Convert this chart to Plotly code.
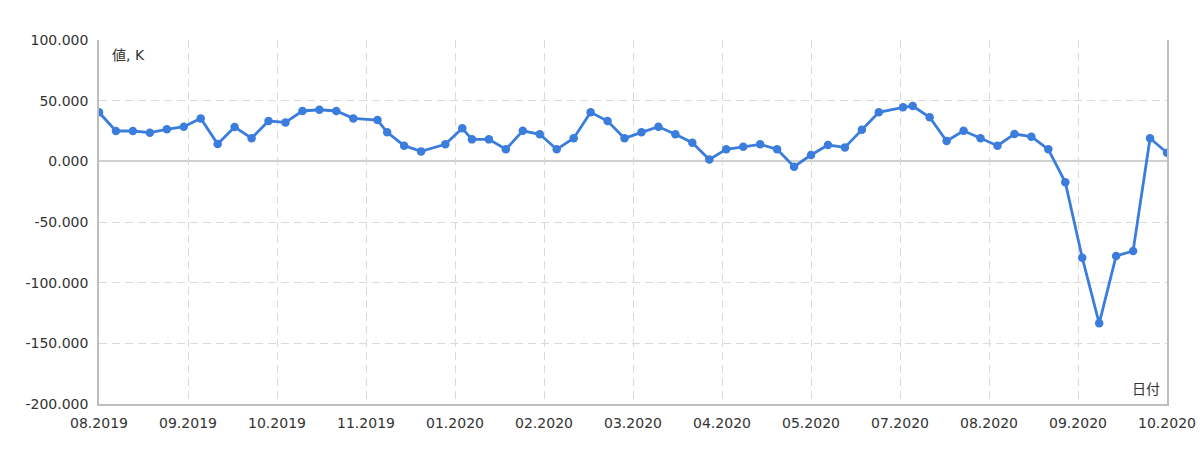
import pandas as pd
import plotly.graph_objects as go

# Weekly report dates (Fridays; holiday weeks published the following Monday)
dates = [
    "2019-08-09", "2019-08-16", "2019-08-23", "2019-08-30", "2019-09-06", "2019-09-13",
    "2019-09-20", "2019-09-27", "2019-10-04", "2019-10-11", "2019-10-18", "2019-10-25",
    "2019-11-01", "2019-11-08", "2019-11-15", "2019-11-22", "2019-12-02", "2019-12-06",
    "2019-12-13", "2019-12-20", "2019-12-30", "2020-01-06", "2020-01-10", "2020-01-17",
    "2020-01-24", "2020-01-31", "2020-02-07", "2020-02-14", "2020-02-21", "2020-02-28",
    "2020-03-06", "2020-03-13", "2020-03-20", "2020-03-27", "2020-04-03", "2020-04-10",
    "2020-04-17", "2020-04-24", "2020-05-01", "2020-05-08", "2020-05-15", "2020-05-22",
    "2020-05-29", "2020-06-05", "2020-06-12", "2020-06-19", "2020-06-26", "2020-07-06",
    "2020-07-10", "2020-07-17", "2020-07-24", "2020-07-31", "2020-08-07", "2020-08-14",
    "2020-08-21", "2020-08-28", "2020-09-04", "2020-09-11", "2020-09-18", "2020-09-25",
    "2020-10-02", "2020-10-09", "2020-10-16", "2020-10-23",
]

values = [
    40.4, 25.0, 25.0, 23.6, 26.4, 28.5,
    35.4, 14.3, 28.3, 19.0, 33.2, 32.1,
    41.5, 42.5, 41.5, 35.4, 34.0, 23.9,
    12.9, 8.2, 14.0, 27.2, 18.1, 18.1,
    9.9, 25.2, 22.3, 9.9, 19.0, 40.4,
    33.2, 19.0, 23.9, 28.5, 22.3, 15.3,
    1.6, 9.9, 12.0, 14.0, 9.9, -4.4,
    5.2, 13.4, 11.5, 26.0, 40.4, 44.5,
    45.6, 36.3, 16.7, 25.2, 19.0, 12.9,
    22.5, 20.3, 9.9, -17.3, -79.4, -133.5,
    -78.0, -73.9, 19.0, 7.1,
]

x_tick_labels = [
    "08.2019", "09.2019", "10.2019", "11.2019", "01.2020", "02.2020", "03.2020",
    "04.2020", "05.2020", "07.2020", "08.2020", "09.2020", "10.2020",
]

y_tick_values = [100, 50, 0, -50, -100, -150, -200]
y_tick_labels = ["100.000", "50.000", "0.000", "-50.000", "-100.000", "-150.000", "-200.000"]

y_title = "値, K"
x_title = "日付"

# evenly spaced x ticks across the date range
start = pd.Timestamp(dates[0])
end = pd.Timestamp(dates[-1])
n = len(x_tick_labels) - 1
x_tick_values = [(start + (end - start) * k / n).strftime("%Y-%m-%d %H:%M:%S") for k in range(n + 1)]

LINE = "#3b7ddd"
GRID = "#dadada"
AXIS = "#bdbdbd"
TXT = "#333333"
FONT = "DejaVu Sans, Verdana, Noto Sans CJK JP, sans-serif"

fig = go.Figure()
fig.add_trace(go.Scatter(
    x=dates, y=values, mode="lines+markers",
    line=dict(color=LINE, width=2.8),
    marker=dict(color=LINE, size=8.5),
    hoverinfo="x+y",
))

fig.update_layout(
    width=1200, height=449,
    margin=dict(l=99, r=33, t=40, b=45),
    paper_bgcolor="white", plot_bgcolor="white",
    showlegend=False,
    font=dict(family=FONT, size=14, color=TXT),
    xaxis=dict(
        type="date",
        range=[dates[0], dates[-1]],
        tickvals=x_tick_values, ticktext=x_tick_labels,
        showgrid=True, gridcolor=GRID, griddash="8px,5px", gridwidth=1,
        showline=True, linecolor=AXIS, linewidth=1.5,
        ticks="", zeroline=False, automargin=False, ticklabelstandoff=5,
        tickfont=dict(size=14, color=TXT),
    ),
    yaxis=dict(
        range=[-200, 100],
        tickvals=y_tick_values, ticktext=y_tick_labels,
        showgrid=True, gridcolor=GRID, griddash="8px,5px", gridwidth=1,
        showline=True, linecolor=AXIS, linewidth=1.5, mirror=True,
        zeroline=True, zerolinecolor="#d0d0d0", zerolinewidth=1.5,
        ticks="", ticklabelstandoff=6, automargin=False,
        tickfont=dict(size=14, color=TXT),
    ),
    annotations=[
        dict(text=y_title, xref="paper", yref="paper", x=0.0105, y=0.9588,
             xanchor="left", yanchor="middle", showarrow=False,
             font=dict(size=14, color=TXT, family=FONT)),
        dict(text=x_title, xref="paper", yref="paper", x=0.9955, y=0.04,
             xanchor="right", yanchor="middle", showarrow=False,
             font=dict(size=14, color=TXT, family=FONT)),
    ],
)

fig.write_html(
    "out.html",
    config={"displayModeBar": False},
    post_script="document.body.style.margin='0';document.body.style.overflow='hidden';",
)
